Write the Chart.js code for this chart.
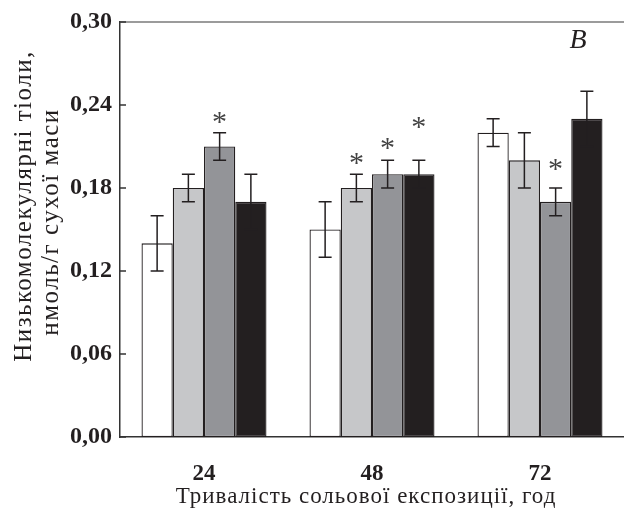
<!DOCTYPE html>
<html>
<head>
<meta charset="utf-8">
<script src="https://cdn.jsdelivr.net/npm/chart.js@4/dist/chart.umd.min.js"></script>
<style>
  body { margin: 0; background: #fff; }
  #wrap { width: 624px; height: 512px; }
</style>
</head>
<body>
<div id="wrap"><canvas id="thiolChart" width="624" height="512"></canvas></div>
<script>
// exposure duration, h
const hours = ['24', '48', '72'];

// mean values per treatment (white, light grey, dark grey, black)
const seriesWhite = [0.14, 0.15, 0.22];
const seriesLight = [0.18, 0.18, 0.20];
const seriesDark = [0.21, 0.19, 0.17];
const seriesBlack = [0.17, 0.19, 0.23];

// error (+/-)
const errWhite = [0.02, 0.02, 0.01];
const errLight = [0.01, 0.01, 0.02];
const errDark = [0.01, 0.01, 0.01];
const errBlack = [0.02, 0.01, 0.02];

// asterisk levels (null = none)
const starWhite = [null, null, null];
const starLight = [null, 0.200, null];
const starDark = [0.230, 0.211, 0.196];
const starBlack = [null, 0.226, null];

const yTicks = [0, 0.06, 0.12, 0.18, 0.24, 0.30];

const yTitle = ['Низькомолекулярні тіоли,', 'нмоль/г сухої маси'];
const xTitle = 'Тривалість сольової експозиції, год';
const panelLetter = 'B';

const serif = '"Liberation Serif", "DejaVu Serif", serif';
const ink = '#231f20';

function bar(values, color, err, stars) {
  return {
    data: values,
    backgroundColor: color,
    borderColor: ink,
    borderWidth: 1.3,
    borderSkipped: false,
    err: err,
    stars: stars,
  };
}

// error bars + asterisks
const errorBars = {
  id: 'errorBars',
  afterDatasetsDraw(chart) {
    const ctx = chart.ctx;
    const y = chart.scales.y;
    ctx.save();
    chart.data.datasets.forEach((ds, i) => {
      chart.getDatasetMeta(i).data.forEach((el, j) => {
        const v = ds.data[j];
        const e = ds.err[j];
        const top = y.getPixelForValue(v + e);
        const bot = y.getPixelForValue(v - e);
        ctx.strokeStyle = ink;
        ctx.lineWidth = 1.5;
        ctx.beginPath();
        ctx.moveTo(el.x, top);
        ctx.lineTo(el.x, bot);
        ctx.moveTo(el.x - 6.5, top);
        ctx.lineTo(el.x + 6.5, top);
        ctx.moveTo(el.x - 6.5, bot);
        ctx.lineTo(el.x + 6.5, bot);
        ctx.stroke();
        if (ds.stars[j] != null) {
          ctx.fillStyle = '#444';
          ctx.font = '30px ' + serif;
          ctx.textAlign = 'center';
          ctx.textBaseline = 'middle';
          ctx.fillText('*', el.x, y.getPixelForValue(ds.stars[j]) + 4);
        }
      });
    });
    ctx.restore();
  },
};

// frame, inward ticks, axis titles, panel letter
const decorations = {
  id: 'decorations',
  afterDraw(chart) {
    const ctx = chart.ctx;
    const a = chart.chartArea;
    const y = chart.scales.y;
    ctx.save();
    ctx.strokeStyle = '#7a7a7a';
    ctx.lineWidth = 1.5;
    ctx.beginPath();
    ctx.moveTo(a.left, a.top);
    ctx.lineTo(a.right, a.top);
    ctx.stroke();

    ctx.strokeStyle = '#333';
    ctx.lineWidth = 1.3;
    ctx.beginPath();
    yTicks.forEach((t) => {
      const py = y.getPixelForValue(t);
      ctx.moveTo(a.left, py);
      ctx.lineTo(a.left + 6, py);
    });
    ctx.stroke();

    ctx.fillStyle = ink;
    ctx.textAlign = 'center';
    ctx.textBaseline = 'middle';
    ctx.font = '23px ' + serif;
    ctx.letterSpacing = '1px';
    ctx.fillText(xTitle, 366, 497);

    ctx.font = '25px ' + serif;
    ctx.letterSpacing = '1.5px';
    ctx.save();
    ctx.translate(24, 206);
    ctx.rotate(-Math.PI / 2);
    ctx.fillText(yTitle[0], 0, 0);
    ctx.restore();
    ctx.save();
    ctx.translate(51, 222);
    ctx.rotate(-Math.PI / 2);
    ctx.fillText(yTitle[1], 0, 0);
    ctx.restore();

    ctx.letterSpacing = '0px';
    ctx.font = 'italic 28px ' + serif;
    ctx.fillText(panelLetter, 578, 41);
    ctx.restore();
  },
};

new Chart(document.getElementById('thiolChart'), {
  type: 'bar',
  data: {
    labels: hours,
    datasets: [
      bar(seriesWhite, '#ffffff', errWhite, starWhite),
      bar(seriesLight, '#c6c7c9', errLight, starLight),
      bar(seriesDark, '#939498', errDark, starDark),
      bar(seriesBlack, '#231f20', errBlack, starBlack),
    ],
  },
  options: {
    responsive: false,
    animation: false,
    events: [],
    layout: { padding: { top: 22, right: 0, left: 0, bottom: 0 } },
    datasets: {
      bar: { categoryPercentage: 0.744, barPercentage: 1 },
    },
    plugins: {
      legend: { display: false },
      tooltip: { enabled: false },
    },
    scales: {
      x: {
        grid: { display: false },
        border: { display: true, color: '#333', width: 1.5 },
        ticks: {
          color: ink,
          font: { family: serif, size: 23, weight: 'bold' },
          padding: 15,
        },
        afterFit(scale) { scale.height = 75; },
      },
      y: {
        min: 0,
        max: 0.30,
        afterBuildTicks(scale) {
          scale.ticks = yTicks.map((v) => ({ value: v }));
        },
        grid: { display: false },
        border: { display: true, color: '#333', width: 1.5 },
        ticks: {
          color: ink,
          font: { family: serif, size: 24, weight: 'bold' },
          padding: 0,
          callback: (v) => v.toFixed(2).replace('.', ','),
        },
        afterFit(scale) { scale.width = 120; },
      },
    },
  },
  plugins: [errorBars, decorations],
});
</script>
</body>
</html>
